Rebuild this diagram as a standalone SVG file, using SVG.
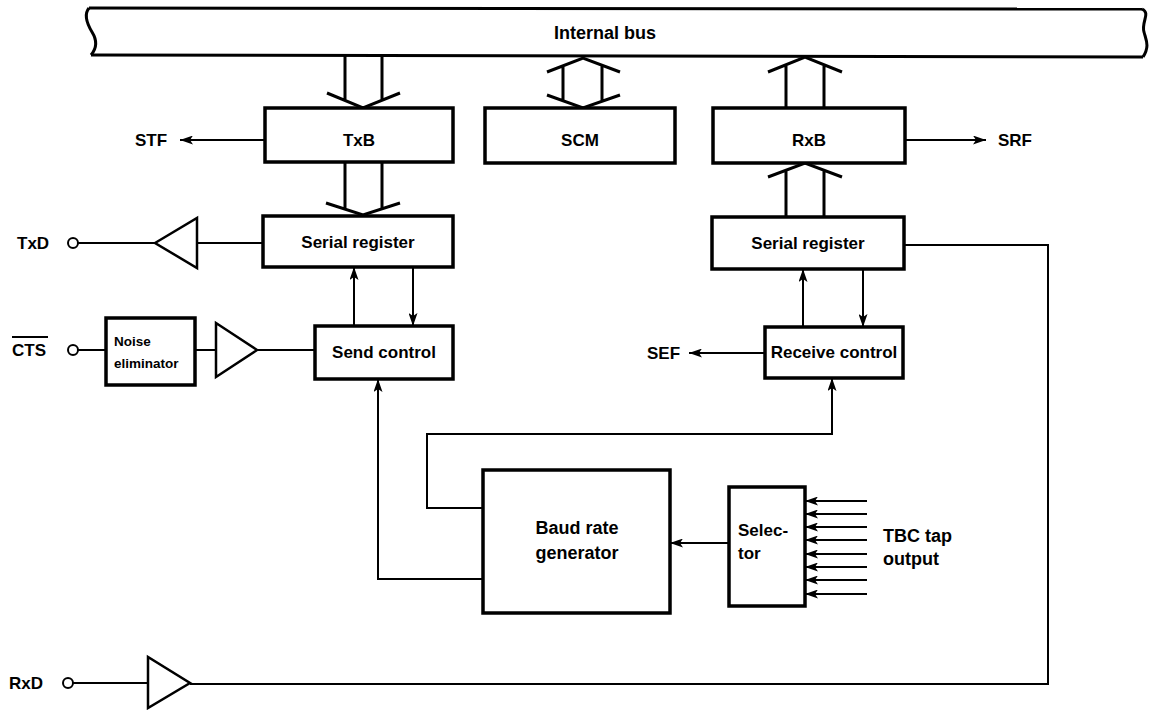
<svg xmlns="http://www.w3.org/2000/svg" width="1150" height="710" viewBox="0 0 1150 710">
<defs>
<marker id="ah" viewBox="0 0 13 9" refX="13" refY="4.5" markerWidth="13" markerHeight="9" markerUnits="userSpaceOnUse" orient="auto">
<path d="M0,0 L13,4.5 L0,9 L3,4.5 Z" fill="#000"/>
</marker>
<style>
.box{fill:#fff;stroke:#000;stroke-width:3.5}
.ln{fill:none;stroke:#000;stroke-width:2}
.bus{fill:none;stroke:#000;stroke-width:3}
.ar{fill:none;stroke:#000;stroke-width:2;marker-end:url(#ah)}
.t{font-family:"Liberation Sans",Arial,sans-serif;font-weight:bold;font-size:17px;fill:#000}
.c{text-anchor:middle}
.s{font-size:13.5px}
.tri{fill:#fff;stroke:#000;stroke-width:2.5}
.pin{fill:#fff;stroke:#000;stroke-width:2}
</style>
</defs>
<rect width="1150" height="710" fill="#fff"/>

<g id="bus">
<path class="bus" d="M89 8 L1142 9"/>
<path class="bus" d="M91 55 L1143 57"/>
<path class="bus" d="M89 8 C84 14,86 22,92 32 C97 40,97 48,91 55"/>
<path class="bus" d="M1142 9 C1151 13,1141 22,1144 32 C1146 40,1150 46,1143 57"/>
<text class="t c" x="605" y="39" style="font-size:18px">Internal bus</text>
</g>

<g id="connectors">
<path class="bus" d="M345 56 V100.5 M382 56 V100.5 M327 93 L363 108 L400 93"/>
<path class="bus" d="M345 163 V209 M382 163 V209 M326 203 L363 215 L400 203"/>
<path class="bus" d="M563 66 V101 M602 66 V101 M547 72 L583 58 L620 72 M547 95 L583 108 L620 95"/>
<path class="bus" d="M786 108 V65 M824 108 V65 M768 72 L805 57 L842 72"/>
<path class="bus" d="M786 217 V170 M824 217 V170 M768 177 L805 163 L842 177"/>

<path class="ar" d="M265 140 H180"/>
<path class="ar" d="M905 140 H986"/>
<path class="ar" d="M765 353 H689"/>

<path class="ln" d="M78 243 H155"/>
<path class="ln" d="M197 243 H263"/>
<path class="ln" d="M78 350 H106"/>
<path class="ln" d="M195 350 H216"/>
<path class="ln" d="M257 350 H315"/>

<path class="ar" d="M354 326 V267"/>
<path class="ar" d="M413 267 V326"/>
<path class="ar" d="M803 327 V269"/>
<path class="ar" d="M863 269 V327"/>

<path class="ar" d="M483 508 H427 V434 H832 V378"/>
<path class="ar" d="M483 579 H378 V379"/>
<path class="ar" d="M729 543 H670"/>

<path class="ar" d="M867 501 H805"/>
<path class="ar" d="M867 514 H805"/>
<path class="ar" d="M867 527 H805"/>
<path class="ar" d="M867 540 H805"/>
<path class="ar" d="M867 554 H805"/>
<path class="ar" d="M867 567 H805"/>
<path class="ar" d="M867 580 H805"/>
<path class="ar" d="M867 594 H805"/>

<path class="ln" d="M73 683 H148"/>
<path class="ln" d="M190 684 H1048 V245 H904"/>
</g>

<g id="txb"><rect class="box" x="265" y="108" width="188" height="54"/><text class="t c" x="359" y="146">TxB</text></g>
<g id="scm"><rect class="box" x="485" y="108" width="190" height="55"/><text class="t c" x="580" y="146">SCM</text></g>
<g id="rxb"><rect class="box" x="713" y="108" width="192" height="55"/><text class="t c" x="809" y="146">RxB</text></g>

<g id="serial-tx"><rect class="box" x="263" y="216" width="190" height="51"/><text class="t c" x="358" y="248">Serial register</text></g>
<g id="serial-rx"><rect class="box" x="712" y="217" width="192" height="52"/><text class="t c" x="808" y="249">Serial register</text></g>

<g id="send-control"><rect class="box" x="315" y="326" width="138" height="53"/><text class="t c" x="384" y="358">Send control</text></g>
<g id="receive-control"><rect class="box" x="765" y="327" width="138" height="51"/><text class="t c" x="834" y="358">Receive control</text></g>

<g id="noise-eliminator"><rect class="box" x="106" y="318" width="89" height="67"/><text class="t s" x="114" y="346">Noise</text><text class="t s" x="114" y="368">eliminator</text></g>

<g id="baud"><rect class="box" x="483" y="470" width="187" height="143"/><text class="t c" x="577" y="534" style="font-size:18px">Baud rate</text><text class="t c" x="577" y="559" style="font-size:18px">generator</text></g>

<g id="selector"><rect class="box" x="729" y="487" width="76" height="119"/><text class="t" x="738" y="536">Selec-</text><text class="t" x="738" y="559">tor</text></g>

<g id="tx-buffer"><path class="tri" d="M155 243 L197 218 L197 268 Z"/></g>
<g id="cts-buffer"><path class="tri" d="M216 323 L216 377 L257 350 Z"/></g>
<g id="rx-buffer"><path class="tri" d="M148 657 L148 708 L190 683 Z"/></g>

<g id="labels">
<text class="t" x="135" y="146">STF</text>
<text class="t" x="998" y="146">SRF</text>
<text class="t" x="647" y="359">SEF</text>
<text class="t" x="17" y="249">TxD</text>
<text class="t" x="12" y="356">CTS</text>
<path class="ln" d="M12 337 H48"/>
<text class="t" x="9" y="689">RxD</text>
<text class="t" x="883" y="542" style="font-size:18px">TBC tap</text>
<text class="t" x="883" y="565" style="font-size:18px">output</text>
</g>

<g id="pins">
<circle class="pin" cx="73" cy="243" r="5"/>
<circle class="pin" cx="73" cy="350" r="5"/>
<circle class="pin" cx="68" cy="683" r="5"/>
</g>
</svg>
